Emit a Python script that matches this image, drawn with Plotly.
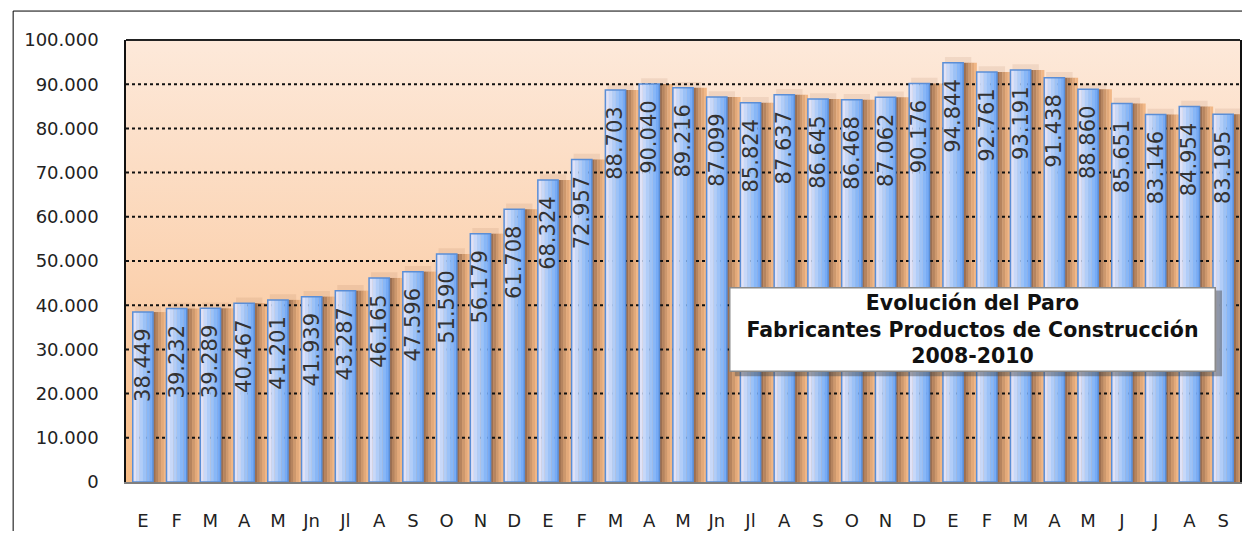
import plotly.graph_objects as go

# Paro registrado, fabricantes de productos de construcción (ene 2008 - sep 2010)
months = ['E', 'F', 'M', 'A', 'M', 'Jn', 'Jl', 'A', 'S', 'O', 'N', 'D',
          'E', 'F', 'M', 'A', 'M', 'Jn', 'Jl', 'A', 'S', 'O', 'N', 'D',
          'E', 'F', 'M', 'A', 'M', 'J', 'J', 'A', 'S']
paro = [38449, 39232, 39289, 40467, 41201, 41939, 43287, 46165, 47596, 51590, 56179, 61708,
        68324, 72957, 88703, 90040, 89216, 87099, 85824, 87637, 86645, 86468, 87062, 90176,
        94844, 92761, 93191, 91438, 88860, 85651, 83146, 84954, 83195]
y_ticks = [0, 10000, 20000, 30000, 40000, 50000, 60000, 70000, 80000, 90000, 100000]

pos = list(range(len(paro)))
X_RANGE = [-0.5, len(paro) - 0.5]
Y_RANGE = [0, 100000]
BAR_W = 0.6

fig = go.Figure()

# plot-area background: vertical peach gradient
fig.add_trace(go.Scatter(
    x=[X_RANGE[0], X_RANGE[1], X_RANGE[1], X_RANGE[0], X_RANGE[0]],
    y=[Y_RANGE[0], Y_RANGE[0], Y_RANGE[1], Y_RANGE[1], Y_RANGE[0]],
    fill='toself', mode='none',
    fillgradient=dict(type='vertical',
                      colorscale=[[0, '#f7bc86'], [0.45, '#fbd2b0'], [1, '#fde9da']]),
    hoverinfo='skip', showlegend=False, xaxis='x', yaxis='y',
))

# soft halo of the cast shadow around the bar tops
fig.add_trace(go.Bar(
    x=pos, y=[v + 1300 for v in paro], width=0.78, offset=-0.24,
    marker=dict(color='rgba(160,110,75,0.13)', line=dict(width=0)),
    hoverinfo='skip', showlegend=False, xaxis='x2', yaxis='y2',
))

# cast shadow to the right of each bar (brown -> orange)
shadow_cols = ['#9c6f51', '#b5845f', '#cd986d', '#e2a97a', '#f1b786']
for k, c in enumerate(shadow_cols):
    fig.add_trace(go.Bar(
        x=pos, y=paro, width=0.085, offset=BAR_W / 2 + k * 0.08,
        marker=dict(color=c, line=dict(width=0)),
        hoverinfo='skip', showlegend=False, xaxis='x2', yaxis='y2',
    ))

# dotted gridlines, above the shadow but under the bars
gx, gy = [], []
for t in y_ticks[1:]:
    gx += [X_RANGE[0], X_RANGE[1], None]
    gy += [t, t, None]
fig.add_trace(go.Scatter(
    x=gx, y=gy, mode='lines',
    line=dict(color='#111111', width=2, dash='dot'),
    hoverinfo='skip', showlegend=False, xaxis='x2', yaxis='y2',
))

# blue bars, horizontal gradient built from thin strips
blue_cols = ['#e0e2f7', '#c8d8f8', '#b1cdf8', '#9cc2f7', '#88b7f7', '#76abf6']
n = len(blue_cols)
for k, c in enumerate(blue_cols):
    fig.add_trace(go.Bar(
        x=pos, y=paro, width=BAR_W / n + 0.005, offset=-BAR_W / 2 + k * BAR_W / n,
        marker=dict(color=c, line=dict(width=0)),
        hoverinfo='skip', showlegend=False, xaxis='x3', yaxis='y3',
    ))

# outline + value labels
fig.add_trace(go.Bar(
    x=pos, y=paro, width=BAR_W,
    marker=dict(color='rgba(0,0,0,0)', line=dict(color='#5b8ed6', width=1.5)),
    texttemplate='%{y:,d}\u00a0\u00a0', textposition='inside', insidetextanchor='end',
    textangle=-90, constraintext='none',
    textfont=dict(family='DejaVu Sans', size=21, color='#333333'),
    hovertemplate='%{y:,d}<extra></extra>', showlegend=False, xaxis='x3', yaxis='y3',
))

axis_hidden = dict(range=X_RANGE, visible=False, fixedrange=True)
yaxis_hidden = dict(range=Y_RANGE, visible=False, fixedrange=True)

fig.update_layout(
    barmode='overlay',
    separators=',.',
    paper_bgcolor='white',
    plot_bgcolor='#fbd2b0',
    margin=dict(l=118, r=0, t=32, b=48),
    font=dict(family='DejaVu Sans', color='#222222', size=18),
    xaxis=dict(range=X_RANGE, tickvals=pos, ticktext=months, showgrid=False,
               zeroline=False, ticks='', ticklabelstandoff=21,
               showline=True, linecolor='#7f7f7f', linewidth=2, fixedrange=True),
    xaxis2=dict(overlaying='x', **axis_hidden),
    xaxis3=dict(overlaying='x', **axis_hidden),
    yaxis=dict(range=Y_RANGE, tickvals=y_ticks, tickformat=',d', showgrid=False,
               zeroline=False, ticks='', ticklabelstandoff=22,
               showline=True, linecolor='#111111', linewidth=1.5, mirror=True,
               fixedrange=True),
    yaxis2=dict(overlaying='y', **yaxis_hidden),
    yaxis3=dict(overlaying='y', **yaxis_hidden),
    shapes=[
        # outer chart frame
        dict(type='rect', xref='paper', yref='paper', x0=-0.1013, x1=1.02,
             y0=-0.2, y1=1.0655, line=dict(color='black', width=1), layer='above'),
        # top border of the plot area
        dict(type='line', xref='paper', yref='paper', x0=0, x1=1, y0=1, y1=1,
             line=dict(color='#222222', width=2), layer='above'),
        # drop shadow of the title box
        dict(type='rect', xref='paper', yref='paper', x0=0.5466, x1=0.9839,
             y0=0.2393, y1=0.4334, fillcolor='rgba(70,70,70,0.45)',
             line=dict(width=0), layer='above'),
    ],
    annotations=[dict(
        text='<b>Evolución del Paro<br>Fabricantes Productos de Construcción<br>2008-2010</b>',
        xref='paper', yref='paper', x=0.7603, y=0.344, xanchor='center', yanchor='middle',
        showarrow=False, width=484, height=82, align='center', valign='middle',
        bgcolor='white', bordercolor='#8a8a8a', borderwidth=1.5, borderpad=0,
        font=dict(family='DejaVu Sans', size=20.5, color='#111111'),
    )],
)

fig.write_html('out.html')
